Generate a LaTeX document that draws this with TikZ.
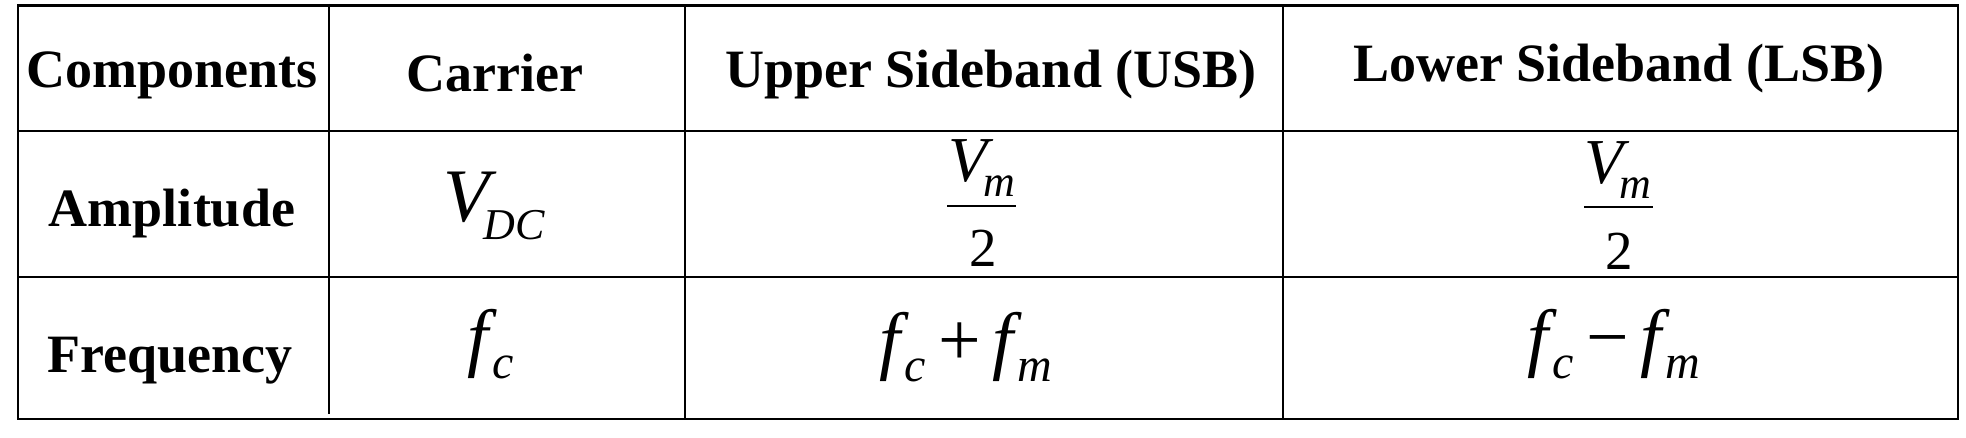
\documentclass[tikz,border=0pt]{standalone}
\usepackage{fontspec}
\setmainfont{Liberation Serif}
\usetikzlibrary{positioning}
\newcommand{\lowsub}[3][24]{\raisebox{-#2}{\fontsize{#1}{#1}\selectfont\itshape #3}}

\begin{document}
\begin{tikzpicture}[
  x=0.5pt, y=-0.5pt,
  rule/.style={line width=1.2pt,black},
  head/.style={anchor=base,inner sep=0pt,font=\fontsize{27}{30}\selectfont\bfseries},
  mathcell/.style={anchor=base,inner sep=0pt,font=\fontsize{37.8}{42}\selectfont\itshape},
  fracnum/.style={anchor=base,inner sep=0pt,font=\fontsize{32}{36}\selectfont\itshape},
  fracden/.style={anchor=base,inner sep=0pt,font=\fontsize{27.5}{32}\selectfont}
]
\useasboundingbox (0,0) rectangle (1966,438);

% --- Grid ---
\draw[rule] (18,5.5) rectangle (1958,419);
\draw[rule] (18,131) -- (1958,131);
\draw[rule] (18,277) -- (1958,277);
\draw[rule] (329,4) -- (329,414);
\draw[rule] (685,5.5) -- (685,419);
\draw[rule] (1283,5.5) -- (1283,419);

% --- Header row ---
\node[head] (comp) at (172,88) {Components};
\node[head] (carr) at (495,92) {Carrier};
\node[head] (usb)  at (991,88) {Upper Sideband (USB)};
\node[head] (lsb)  at (1619,82) {Lower Sideband (LSB)};

% --- Row labels ---
\node[head] (amp)  at (172,227) {Amplitude};
\node[head] (freq) at (170,372) {Frequency};

% --- Amplitudes ---
\node[mathcell] (vdc) at (494,222) {V\hspace{-3pt}\lowsub[22]{9pt}{DC}};
\node[fracnum] (usbnum) at (982,182) {V\hspace{-2pt}\lowsub[22]{7.5pt}{m}};
\draw[line width=1.1pt] (947,206) -- (1016,206);
\node[fracden] (usbden) at (983,267) {2};
\node[fracnum] (lsbnum) at (1618,184) {V\hspace{-2pt}\lowsub[22]{7.5pt}{m}};
\draw[line width=1.1pt] (1584,207) -- (1653,207);
\node[fracden] (lsbden) at (1619,270) {2};

% --- Frequencies ---
\node[mathcell] (fc)   at (491,363) {f\hspace{2pt}\lowsub{8pt}{c}};
\node[mathcell] (fsum) at (966,365)
  {f\hspace{2pt}\lowsub{8pt}{c}\hspace{6pt}{\upshape +}\hspace{6pt}f\hspace{2pt}\lowsub{8pt}{m}};
\node[mathcell] (fdif) at (1614,363)
  {f\hspace{2pt}\lowsub{8pt}{c}\hspace{6pt}{\upshape −}\hspace{6pt}f\hspace{2pt}\lowsub{8pt}{m}};

\end{tikzpicture}
\end{document}
